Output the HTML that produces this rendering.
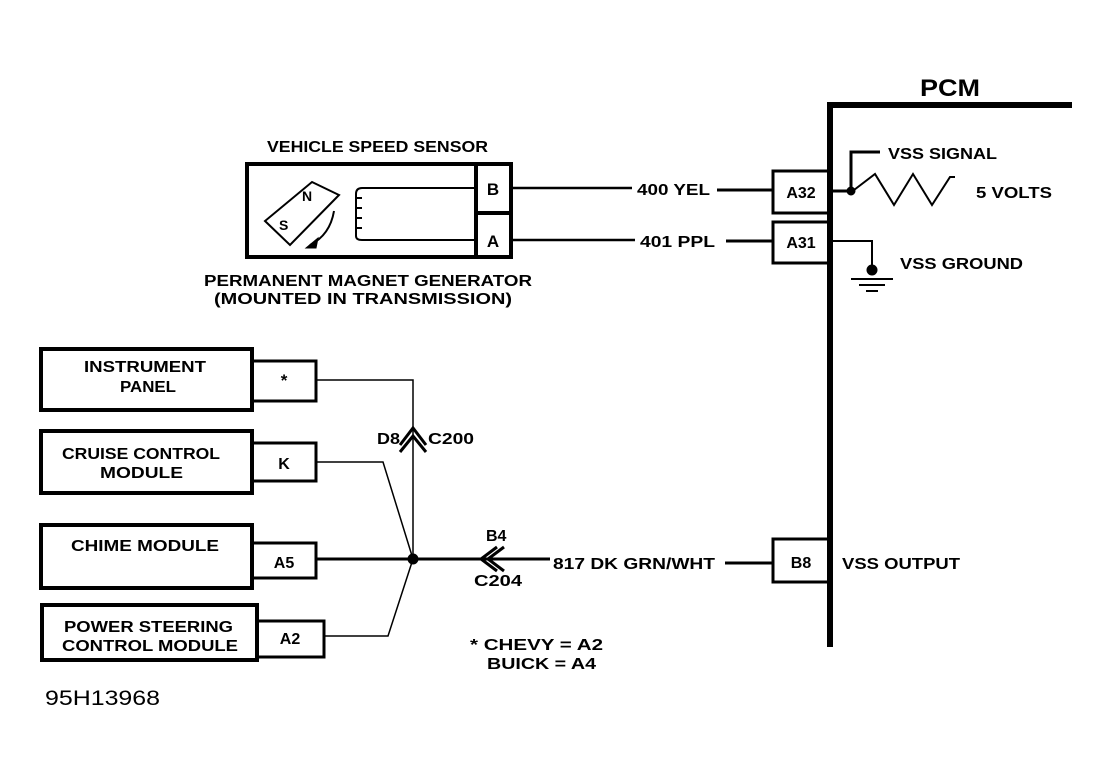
<!DOCTYPE html>
<html><head><meta charset="utf-8"><style>
html,body{margin:0;padding:0;background:#fff;}
svg{display:block;}
text{font-family:"Liberation Sans",sans-serif;font-weight:bold;fill:#000;}
</style></head><body>
<svg width="1110" height="782" viewBox="0 0 1110 782" xmlns="http://www.w3.org/2000/svg">
<g stroke="#000" fill="none">
<line x1="830" y1="103" x2="830" y2="647" stroke-width="6"/>
<line x1="827" y1="105" x2="1072" y2="105" stroke-width="6"/>
<rect x="247" y="164" width="264" height="93" stroke-width="4"/>
<line x1="476" y1="164" x2="476" y2="257" stroke-width="4"/>
<line x1="476" y1="213" x2="511" y2="213" stroke-width="4"/>
<polygon points="312,182 339,195 290,245 265,221" stroke-width="2"/>
<path d="M334,211 Q330,235 310,245" stroke-width="2"/>
<polygon points="306,248 318,238 316,248" fill="#000" stroke-width="1"/>
<path d="M476,188 H362 M362,188 q-6,0 -6,6 v42 q0,4 6,4 H476" stroke-width="2"/>
<path d="M356,198 h6 M356,208 h6 M356,218 h6 M356,228 h6" stroke-width="2"/>
<line x1="511" y1="188" x2="632" y2="188" stroke-width="2.5"/>
<line x1="717" y1="190" x2="773" y2="190" stroke-width="3"/>
<line x1="511" y1="240" x2="635" y2="240" stroke-width="2.5"/>
<line x1="726" y1="241" x2="773" y2="241" stroke-width="3"/>
<rect x="773" y="171" width="57" height="42" stroke-width="3"/>
<rect x="773" y="222" width="57" height="41" stroke-width="3"/>
<rect x="773" y="539" width="57" height="43" stroke-width="3"/>
<line x1="830" y1="191" x2="851" y2="191" stroke-width="3"/>
<path d="M851,191 V152 H880" stroke-width="3"/>
<polyline points="854,190 875,174 894,205 913,174 932,205 950,177 955,177" stroke-width="2"/>
<circle cx="851" cy="191" r="4" fill="#000"/>
<path d="M830,241 H872 V270" stroke-width="2"/>
<circle cx="872" cy="270" r="5" fill="#000"/>
<line x1="851" y1="279" x2="893" y2="279" stroke-width="2"/>
<line x1="859" y1="285" x2="885" y2="285" stroke-width="2"/>
<line x1="866" y1="291" x2="878" y2="291" stroke-width="2"/>
<rect x="41" y="349" width="211" height="61" stroke-width="4"/>
<rect x="252" y="361" width="64" height="40" stroke-width="3"/>
<rect x="41" y="431" width="211" height="62" stroke-width="4"/>
<rect x="252" y="443" width="64" height="38" stroke-width="3"/>
<rect x="41" y="525" width="211" height="63" stroke-width="4"/>
<rect x="252" y="543" width="64" height="35" stroke-width="3"/>
<rect x="42" y="605" width="215" height="55" stroke-width="4"/>
<rect x="257" y="621" width="67" height="36" stroke-width="3"/>
<path d="M316,380 H413 V559" stroke-width="1.5"/>
<path d="M316,462 H383 L413,559" stroke-width="1.5"/>
<path d="M324,636 H388 L413,559" stroke-width="1.5"/>
<line x1="316" y1="559" x2="550" y2="559" stroke-width="3"/>
<line x1="725" y1="563" x2="773" y2="563" stroke-width="3"/>
<circle cx="413" cy="559" r="5" fill="#000"/>
<polyline points="400,445 413,428 426,445" stroke-width="3"/>
<polyline points="400,452 413,436 426,452" stroke-width="3"/>
<polyline points="497,547 481,559 497,571" stroke-width="3"/>
<polyline points="504,547 488,559 504,571" stroke-width="3"/>
</g>
<g lengthAdjust="spacingAndGlyphs">
<text x="920" y="96" font-size="24" textLength="60" lengthAdjust="spacingAndGlyphs">PCM</text>
<text x="267" y="152" font-size="16" textLength="221" lengthAdjust="spacingAndGlyphs">VEHICLE SPEED SENSOR</text>
<text x="493" y="195" font-size="17" text-anchor="middle">B</text>
<text x="493" y="247" font-size="17" text-anchor="middle">A</text>
<text x="204" y="286" font-size="16" textLength="328" lengthAdjust="spacingAndGlyphs">PERMANENT MAGNET GENERATOR</text>
<text x="214" y="304" font-size="16" textLength="298" lengthAdjust="spacingAndGlyphs">(MOUNTED IN TRANSMISSION)</text>
<text x="302" y="201" font-size="14">N</text>
<text x="279" y="230" font-size="14">S</text>
<text x="637" y="195" font-size="16" textLength="73" lengthAdjust="spacingAndGlyphs">400 YEL</text>
<text x="640" y="247" font-size="16" textLength="75" lengthAdjust="spacingAndGlyphs">401 PPL</text>
<text x="801" y="198" font-size="16" text-anchor="middle">A32</text>
<text x="801" y="248" font-size="16" text-anchor="middle">A31</text>
<text x="888" y="159" font-size="16" textLength="109" lengthAdjust="spacingAndGlyphs">VSS SIGNAL</text>
<text x="976" y="198" font-size="16" textLength="76" lengthAdjust="spacingAndGlyphs">5 VOLTS</text>
<text x="900" y="269" font-size="16" textLength="123" lengthAdjust="spacingAndGlyphs">VSS GROUND</text>
<text x="84" y="372" font-size="16" textLength="122" lengthAdjust="spacingAndGlyphs">INSTRUMENT</text>
<text x="120" y="392" font-size="16" textLength="56" lengthAdjust="spacingAndGlyphs">PANEL</text>
<text x="284" y="386" font-size="17" text-anchor="middle">*</text>
<text x="62" y="459" font-size="16" textLength="158" lengthAdjust="spacingAndGlyphs">CRUISE CONTROL</text>
<text x="100" y="478" font-size="16" textLength="83" lengthAdjust="spacingAndGlyphs">MODULE</text>
<text x="284" y="469" font-size="16" text-anchor="middle">K</text>
<text x="71" y="551" font-size="16" textLength="148" lengthAdjust="spacingAndGlyphs">CHIME MODULE</text>
<text x="284" y="568" font-size="16" text-anchor="middle">A5</text>
<text x="64" y="632" font-size="16" textLength="169" lengthAdjust="spacingAndGlyphs">POWER STEERING</text>
<text x="62" y="651" font-size="16" textLength="176" lengthAdjust="spacingAndGlyphs">CONTROL MODULE</text>
<text x="290" y="644" font-size="16" text-anchor="middle">A2</text>
<text x="377" y="444" font-size="16" textLength="23" lengthAdjust="spacingAndGlyphs">D8</text>
<text x="428" y="444" font-size="16" textLength="46" lengthAdjust="spacingAndGlyphs">C200</text>
<text x="486" y="541" font-size="16">B4</text>
<text x="474" y="586" font-size="16" textLength="48" lengthAdjust="spacingAndGlyphs">C204</text>
<text x="553" y="569" font-size="16" textLength="162" lengthAdjust="spacingAndGlyphs">817 DK GRN/WHT</text>
<text x="801" y="568" font-size="16" text-anchor="middle">B8</text>
<text x="842" y="569" font-size="16" textLength="118" lengthAdjust="spacingAndGlyphs">VSS OUTPUT</text>
<text x="470" y="650" font-size="16" textLength="133" lengthAdjust="spacingAndGlyphs">* CHEVY = A2</text>
<text x="487" y="669" font-size="16" textLength="109" lengthAdjust="spacingAndGlyphs">BUICK = A4</text>
<text x="45" y="705" font-size="21" textLength="115" lengthAdjust="spacingAndGlyphs" style="font-weight:normal">95H13968</text>
</g>
</svg>
</body></html>
